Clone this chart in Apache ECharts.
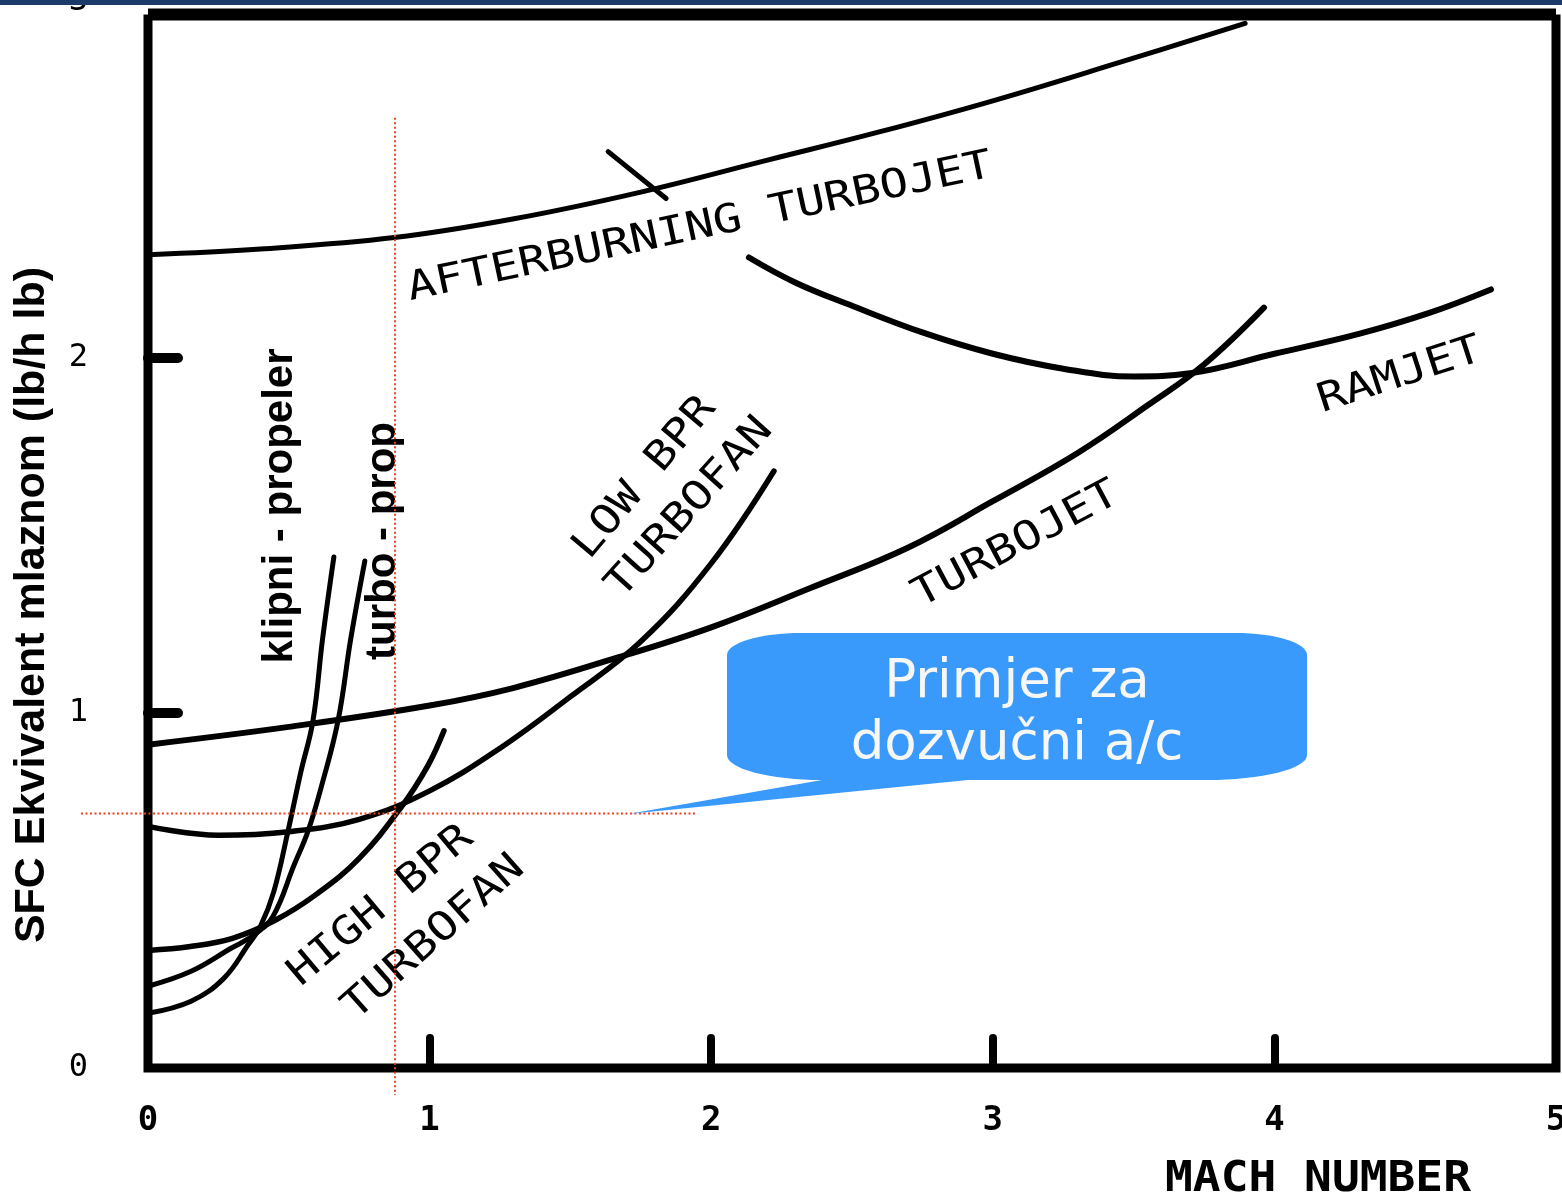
<!DOCTYPE html>
<html><head><meta charset="utf-8">
<script src="https://cdn.jsdelivr.net/npm/echarts@6/dist/echarts.min.js"></script>
<style>html,body{margin:0;padding:0;background:#fff}#c{width:1562px;height:1199px}</style>
</head><body><div id="c"></div>
<script>
// ---- data (Mach number, SFC) ----
const xTicks = [0, 1, 2, 3, 4, 5];
const yTicks = [0, 1, 2, 3];
const afterburningTurbojet = [[0,2.289],[0.4,2.305],[0.874,2.337],[1.3,2.39],[1.75,2.465],[2.2,2.555],[2.6,2.635],[3.0,2.722],[3.45,2.83],[3.896,2.94]];
const afterburnerMark = [[1.634,2.579],[1.84,2.447]];
const ramjet = [[2.134,2.281],[2.3,2.21],[2.5,2.145],[2.75,2.07],[3.0,2.01],[3.25,1.968],[3.5,1.946],[3.7,1.955],[4.0,2.01],[4.3,2.066],[4.55,2.125],[4.769,2.191]];
const turbojet = [[0,0.91],[0.5,0.96],[1.0,1.02],[1.3,1.07],[1.655,1.152],[2.0,1.24],[2.35,1.35],[2.7,1.465],[3.0,1.595],[3.3,1.73],[3.55,1.865],[3.75,1.98],[3.963,2.14]];
const lowBprTurbofan = [[0,0.68],[0.25,0.655],[0.5,0.665],[0.75,0.7],[1.0,0.78],[1.25,0.9],[1.5,1.045],[1.75,1.2],[2.0,1.42],[2.223,1.68]];
const highBprTurbofan = [[0,0.331],[0.15,0.342],[0.3,0.365],[0.45,0.415],[0.6,0.49],[0.75,0.59],[0.9,0.735],[0.994,0.851],[1.051,0.949]];
const klipniPropeler = [[0,0.154],[0.153,0.188],[0.27,0.253],[0.355,0.346],[0.40,0.40],[0.447,0.497],[0.497,0.666],[0.543,0.834],[0.586,0.978],[0.62,1.208],[0.66,1.438]];
const turboProp = [[0,0.23],[0.153,0.272],[0.295,0.337],[0.376,0.374],[0.444,0.427],[0.518,0.57],[0.568,0.666],[0.614,0.787],[0.675,0.978],[0.72,1.208],[0.77,1.427]];
const frameTop = [[0,2.965],[5,2.965]];
const frameSides = [[0,2.965],[0,0],[5,0],[5,2.965]];
const guideVertical = [[0.877,2.674],[0.877,-0.076]];
const guideHorizontal = [[-0.238,0.716],[1.946,0.716]];

const curveLabels = [
  {t:'AFTERBURNING TURBOJET', x:700, y:228, a:12},
  {t:'TURBOJET', x:1016, y:545, a:28},
  {t:'RAMJET', x:1400, y:376, a:18},
  {t:'LOW BPR', x:645, y:478, a:50},
  {t:'TURBOFAN', x:690, y:508, a:48},
  {t:'HIGH BPR', x:381, y:906, a:40},
  {t:'TURBOFAN', x:434, y:938, a:41.5}
];

// callout outline built from elliptical corner arcs
function arcPts(cx, cy, rx, ry, t0, t1, n) {
  const out = [];
  for (let i = 0; i <= n; i++) {
    const t = t0 + (t1 - t0) * i / n;
    out.push([cx + rx * Math.cos(t), cy + ry * Math.sin(t)]);
  }
  return out;
}
const P = Math.PI;
const bubble = [].concat(
  arcPts(801, 655, 74, 22, P, 1.5 * P, 16),
  arcPts(1236, 655, 71, 22, 1.5 * P, 2 * P, 16),
  arcPts(1207, 755, 100, 25, 0, 0.5 * P, 16),
  [[968, 780], [628, 814], [822, 780]],
  arcPts(822, 755, 95, 25, 0.5 * P, P, 16)
);

const chart = echarts.init(document.getElementById('c'), null, {renderer:'canvas'});
const curve = (name, data, w) => ({
  name, type:'line', data, smooth:0.4, symbol:'none', clip:false,
  lineStyle:{color:'#000', width:w||5.5, cap:'round', join:'round'}, silent:true, z:3
});
const straight = (name, data, w, extra) => Object.assign({
  name, type:'line', data, smooth:false, symbol:'none', clip:false,
  lineStyle:Object.assign({color:'#000', width:w, cap:'butt', join:'miter'}, extra||{}), silent:true, z:4
});
const T = (o) => Object.assign({align:'center', verticalAlign:'middle', textAlign:'center', textVerticalAlign:'middle', fill:'#000'}, o);

const graphics = [
  {type:'rect', shape:{x:0,y:0,width:1562,height:5}, style:{fill:'#1b3a6a'}, z:10},
  {type:'text', x:32, y:605, rotation:P/2, style:T({text:'SFC Ekvivalent mlaznom (lb/h lb)', font:'bold 43px "Liberation Sans", Arial, sans-serif'})},
  {type:'text', x:280, y:506, rotation:P/2, style:T({text:'klipni - propeler', font:'bold 42px "Liberation Sans", Arial, sans-serif'})},
  {type:'text', x:383, y:541, rotation:P/2, style:T({text:'turbo - prop', font:'bold 42px "Liberation Sans", Arial, sans-serif'})},
  {type:'text', x:1318, y:1180, scaleX:1.1, style:T({text:'MACH NUMBER', font:'bold 42px "DejaVu Sans Mono", monospace'})},
  {type:'polygon', shape:{points:bubble}, style:{fill:'#3a9afc'}, z:8},
  {type:'text', x:1017, y:683, z:9, style:T({text:'Primjer za', font:'53px "DejaVu Sans", Verdana, sans-serif', fill:'#f7f7f7'})},
  {type:'text', x:1017, y:745, z:9, style:T({text:'dozvučni a/c', font:'53px "DejaVu Sans", Verdana, sans-serif', fill:'#f7f7f7'})}
];
curveLabels.forEach(l => graphics.push({
  type:'text', x:l.x, y:l.y, rotation:l.a*P/180, scaleX:1.18,
  style:T({text:l.t, font:'40px "DejaVu Sans Mono", monospace'})
}));

chart.setOption({
  backgroundColor:'#fff',
  animation:false,
  grid:{left:148, right:6, top:2, bottom:131, containLabel:false, outerBoundsMode:'none'},
  xAxis:{type:'value', min:0, max:5, interval:1,
    axisLine:{show:false},
    axisTick:{show:true, inside:true, length:30, customValues:[1,2,3,4], lineStyle:{color:'#000', width:8, cap:'round'}},
    axisLabel:{show:true, margin:36, customValues:xTicks, fontSize:34, fontWeight:'bold', fontFamily:'"DejaVu Sans Mono", monospace', color:'#000'},
    splitLine:{show:false}},
  yAxis:{type:'value', min:0, max:3, interval:1,
    axisLine:{show:false},
    axisTick:{show:true, inside:true, length:30, customValues:[1,2], lineStyle:{color:'#000', width:10, cap:'round'}},
    axisLabel:{show:true, margin:60, customValues:yTicks, fontSize:32, fontFamily:'"DejaVu Sans Mono", monospace', color:'#000'},
    splitLine:{show:false}},
  series:[
    straight('frameTop', frameTop, 12),
    straight('frameSides', frameSides, 9),
    curve('AFTERBURNING TURBOJET', afterburningTurbojet, 5),
    straight('afterburnerMark', afterburnerMark, 5, {cap:'round'}),
    curve('RAMJET', ramjet, 6),
    curve('TURBOJET', turbojet, 6),
    curve('LOW BPR TURBOFAN', lowBprTurbofan, 5.5),
    curve('HIGH BPR TURBOFAN', highBprTurbofan, 5.5),
    curve('klipni - propeler', klipniPropeler, 5),
    curve('turbo - prop', turboProp, 5)
  ],
  graphic:graphics
});

// red dotted guide lines, positioned through the chart's own scales
const toPx = (p) => chart.convertToPixel({gridIndex:0}, p);
const guideEl = (seg) => {
  const a = toPx(seg[0]), b = toPx(seg[1]);
  return {type:'line', shape:{x1:a[0], y1:a[1], x2:b[0], y2:b[1]}, z:7,
    style:{stroke:'#f0401c', lineWidth:2, lineDash:[2,2.5]}};
};
chart.setOption({graphic: graphics.concat([guideEl(guideVertical), guideEl(guideHorizontal)])});
</script></body></html>
